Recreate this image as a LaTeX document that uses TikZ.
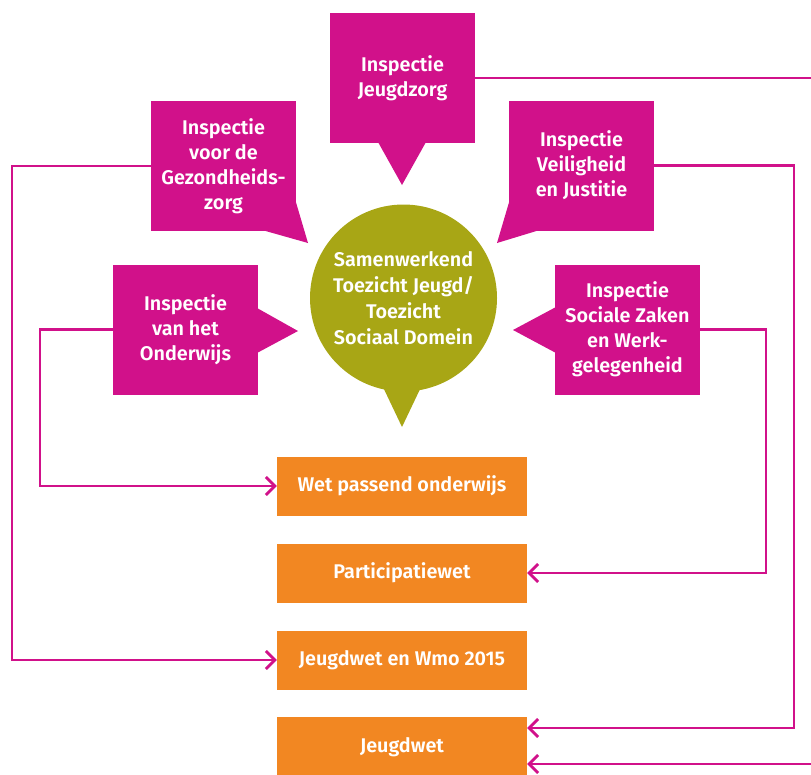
\documentclass[tikz,border=0pt]{standalone}
\usepackage{fontspec}
\setmainfont{Fira Sans}[BoldFont={Fira Sans SemiBold}]
\usetikzlibrary{arrows.meta}
\definecolor{mag}{RGB}{209,17,138}
\definecolor{oliv}{RGB}{168,166,21}
\definecolor{orng}{RGB}{242,135,34}
\begin{document}
\begin{tikzpicture}[x=1pt,y=-1pt,
  insp/.style={fill=mag, text=white, minimum width=145, minimum height=130, inner sep=0pt, align=center, font=\bfseries\fontsize{19.8}{25}\selectfont},
  law/.style={fill=orng, text=white, minimum width=250, minimum height=59, inner sep=0pt, align=center, font=\bfseries\fontsize{19.8}{25}\selectfont},
  ptr/.style={fill=mag},
  conn/.style={draw=mag, line width=2.7pt, line join=miter},
  arr/.style={conn, -{Straight Barb[length=9pt,width=18pt,line width=2.7pt]}}
]
\useasboundingbox (0,0) rectangle (811,774);
\clip (0,0) rectangle (811,774);

% inspection boxes
\node[insp] (jz) at (402.5,78) {Inspectie\\Jeugdzorg};
\node[insp] (gz) at (223.5,166) {Inspectie\\voor de\\Gezondheids-\\zorg};
\node[insp] (vj) at (581.5,165.5) {Inspectie\\Veiligheid\\en Justitie};
\node[insp] (ow) at (185.5,329.5) {Inspectie\\van het\\Onderwijs};
\node[insp] (sz) at (627.5,329.5) {Inspectie\\Sociale Zaken\\en Werk-\\gelegenheid};

% pointers
\fill[ptr] (378,142) -- (402,185) -- (426,142) -- cycle;
\fill[ptr] (262,230) -- (308,243) -- (295,199) -- cycle;
\fill[ptr] (543,229) -- (497,243) -- (510,199) -- cycle;
\fill[ptr] (257,308) -- (298,331) -- (257,353) -- cycle;
\fill[ptr] (556,307) -- (513,330) -- (556,353) -- cycle;

% central bubble
\fill[oliv] (382,385) -- (402,427) -- (422,385) -- cycle;
\node[circle, fill=oliv, minimum size=187, inner sep=0pt, text=white, align=center,
  font=\bfseries\fontsize{19.8}{26}\selectfont] (c) at (403.5,298)
  {Samenwerkend\\Toezicht Jeugd/\\Toezicht\\Sociaal Domein};

% laws
\node[law] (lw1) at (402,486) {Wet passend onderwijs};
\node[law] (lw2) at (402,573) {Participatiewet};
\node[law] (lw3) at (402,660) {Jeugdwet en Wmo 2015};
\node[law, minimum height=60] (lw4) at (402,747) {Jeugdwet};

% connectors
\coordinate (o1) at (40,329.5);
\draw[arr] (ow.west) -- (o1) |- (lw1.west);
\coordinate (g1) at (12,166);
\draw[arr] (gz.west) -- (g1) |- (lw3.west);
\coordinate (s1) at (766,329.5);
\draw[arr] (sz.east) -- (s1) |- (lw2.east);
\coordinate (v1) at (794,165.5);
\coordinate (v2) at ([yshift=19pt]lw4.east);
\draw[arr] (vj.east) -- (v1) |- (v2);
\coordinate (j1) at (830,78);
\coordinate (j2) at ([yshift=-17pt]lw4.east);
\draw[arr] (jz.east) -- (j1) |- (j2);
\end{tikzpicture}
\end{document}
